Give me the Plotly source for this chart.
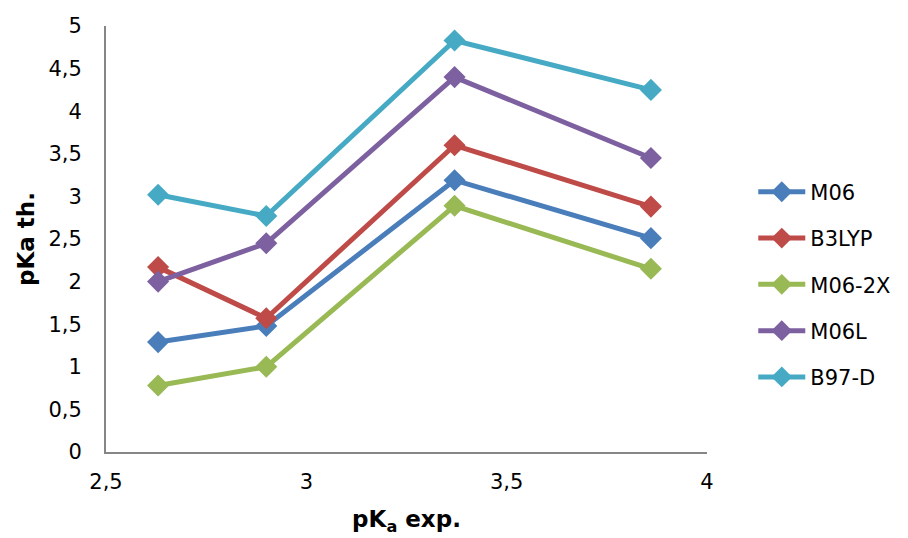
import plotly.graph_objects as go

x_exp = [2.63, 2.9, 3.37, 3.86]
m06 = [1.29, 1.48, 3.19, 2.51]
b3lyp = [2.17, 1.57, 3.60, 2.88]
m06_2x = [0.78, 1.00, 2.89, 2.15]
m06l = [2.00, 2.45, 4.40, 3.45]
b97d = [3.02, 2.77, 4.83, 4.25]

series = [
    ("M06", m06, "#4A7EBB"),
    ("B3LYP", b3lyp, "#BE4B48"),
    ("M06-2X", m06_2x, "#98B954"),
    ("M06L", m06l, "#7D60A0"),
    ("B97-D", b97d, "#46AAC5"),
]

xticks = [2.5, 3, 3.5, 4]
xticklabels = ["2,5", "3", "3,5", "4"]
yticks = [0, 0.5, 1, 1.5, 2, 2.5, 3, 3.5, 4, 4.5, 5]
yticklabels = ["0", "0,5", "1", "1,5", "2", "2,5", "3", "3,5", "4", "4,5", "5"]

FONT = "DejaVu Sans, Liberation Sans, Arial, sans-serif"

fig = go.Figure()
for name, vals, col in series:
    fig.add_trace(go.Scatter(
        x=x_exp, y=vals, name=name, mode="lines+markers",
        line=dict(color=col, width=5),
        marker=dict(symbol="diamond", size=17, color=col),
        legendgroup=name,
    ))

fig.update_layout(
    width=908, height=538,
    margin=dict(l=98, r=209, t=18, b=94, autoexpand=False),
    paper_bgcolor="white", plot_bgcolor="white",
    font=dict(family=FONT, size=21, color="black"),
    showlegend=True,
    legend=dict(x=1.077, y=0.393, xanchor="left", yanchor="middle",
                font=dict(family=FONT, size=21, color="black"),
                tracegroupgap=16, itemwidth=47),
    xaxis=dict(range=[2.5, 4], tickvals=xticks, ticktext=xticklabels,
               showgrid=False, zeroline=False, showline=True,
               linecolor="#868686", linewidth=2, ticks="",
               ticklabelstandoff=10, automargin=False,
               tickfont=dict(family=FONT, size=21, color="black"),
               title=dict(text="<b>pK<sub>a</sub> exp.</b>",
                          font=dict(family=FONT, size=23, color="black"), standoff=18)),
    yaxis=dict(range=[0, 5], tickvals=yticks, ticktext=yticklabels,
               showgrid=False, zeroline=False, showline=True,
               linecolor="#868686", linewidth=2, ticks="",
               ticklabelstandoff=18, automargin=False,
               tickfont=dict(family=FONT, size=21, color="black"),
               title=dict(text="<b>pKa th.</b>",
                          font=dict(family=FONT, size=23, color="black"), standoff=7)),
)

fig.write_html("out.html")
